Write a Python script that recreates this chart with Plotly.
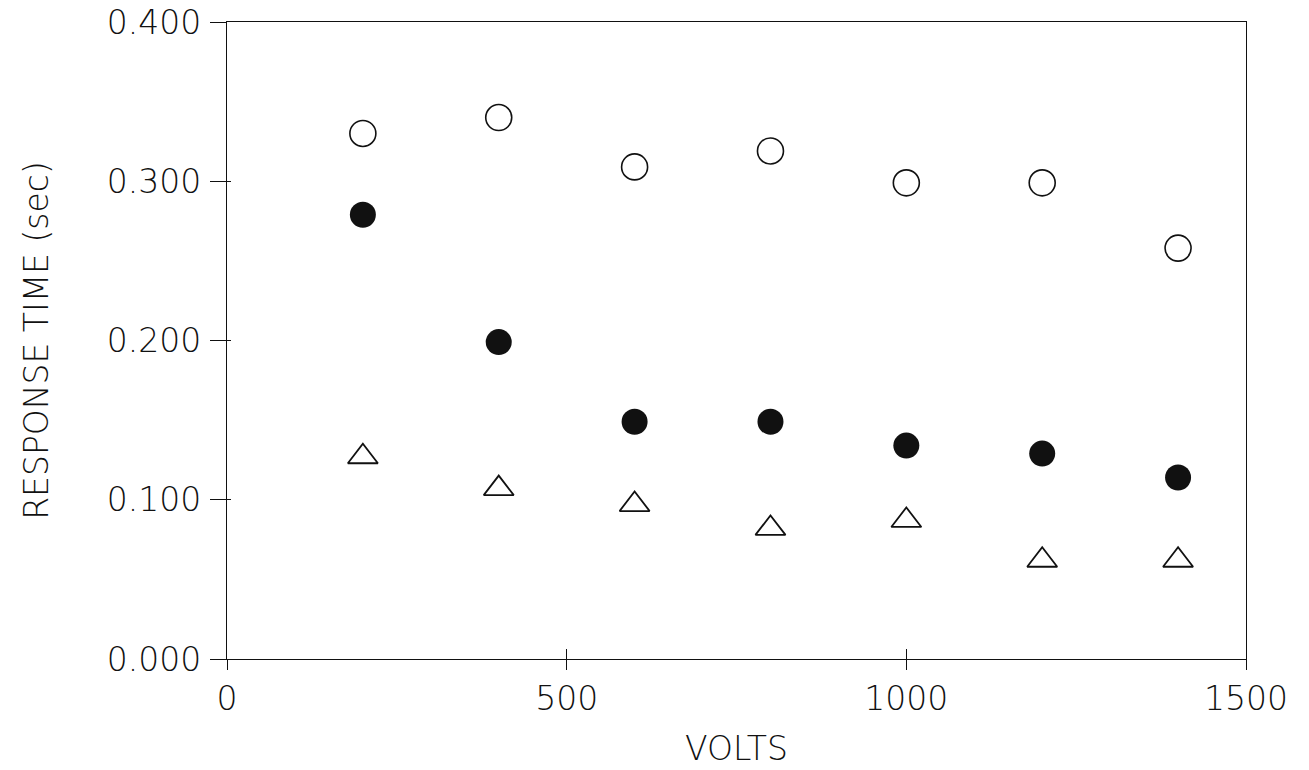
import plotly.graph_objects as go

# Applied voltage (V)
volts = [200, 400, 600, 800, 1000, 1200, 1400]

# Response times (sec) for the three measurement sets
open_circle = [0.330, 0.340, 0.309, 0.319, 0.299, 0.299, 0.258]
filled_circle = [0.279, 0.199, 0.149, 0.149, 0.134, 0.129, 0.114]
triangle = [0.127, 0.107, 0.097, 0.082, 0.087, 0.062, 0.062]

x_ticks = [0, 500, 1000, 1500]
y_ticks = [0.0, 0.1, 0.2, 0.3, 0.4]

FONT = "DejaVu Sans"
WEIGHT = 200
FSIZE = 33
INK = "#111111"

fig = go.Figure()

fig.add_trace(go.Scatter(
    x=volts, y=open_circle, mode="markers",
    marker=dict(symbol="circle-open", size=26, color=INK, line=dict(width=1.6)),
    showlegend=False,
))
fig.add_trace(go.Scatter(
    x=volts, y=filled_circle, mode="markers",
    marker=dict(symbol="circle", size=26, color=INK, line=dict(width=0)),
    showlegend=False,
))
fig.add_trace(go.Scatter(
    x=volts, y=triangle, mode="markers",
    marker=dict(symbol="triangle-up-open", size=26, color=INK, line=dict(width=1.8)),
    showlegend=False,
))

axis_common = dict(
    showgrid=False, zeroline=False, showline=True, linecolor=INK, linewidth=1.3,
    tickcolor=INK, tickwidth=1.3, ticklabeloverflow="allow", automargin=False,
    tickfont=dict(family=FONT, size=FSIZE, color=INK, weight=WEIGHT),
)

fig.update_layout(
    width=1309, height=770,
    margin=dict(l=227, r=63, t=22, b=111),
    paper_bgcolor="white", plot_bgcolor="white",
    font=dict(family=FONT, color=INK, weight=WEIGHT),
    xaxis=dict(
        range=[0, 1500], tickvals=x_ticks, ticks="outside", ticklen=10,
        mirror=True, ticklabelstandoff=0,
        title=dict(text="VOLTS", font=dict(family=FONT, size=FSIZE, color=INK, weight=WEIGHT), standoff=20),
        **axis_common,
    ),
    yaxis=dict(
        range=[0, 0.4], tickvals=y_ticks, tickformat=".3f", ticks="outside", ticklen=16,
        mirror=True, ticklabelstandoff=2,
        title=dict(text="RESPONSE TIME (sec)", font=dict(family=FONT, size=FSIZE, color=INK, weight=WEIGHT), standoff=48),
        **axis_common,
    ),
    # overlay axes carry the inner half of the crossing tick marks
    xaxis2=dict(
        overlaying="x", matches="x", side="bottom", anchor="y",
        tickvals=x_ticks, ticks="inside", ticklen=10, tickcolor=INK, tickwidth=1.3,
        showticklabels=False, showgrid=False, zeroline=False, showline=False,
    ),
    yaxis2=dict(
        overlaying="y", matches="y", side="left", anchor="x",
        tickvals=y_ticks, ticks="inside", ticklen=4, tickcolor=INK, tickwidth=1.3,
        showticklabels=False, showgrid=False, zeroline=False, showline=False,
    ),
)

# an invisible trace so the overlay axes are drawn
fig.add_trace(go.Scatter(x=[None], y=[None], xaxis="x2", yaxis="y2",
                         mode="markers", showlegend=False, hoverinfo="skip"))

fig.write_html("out.html")
